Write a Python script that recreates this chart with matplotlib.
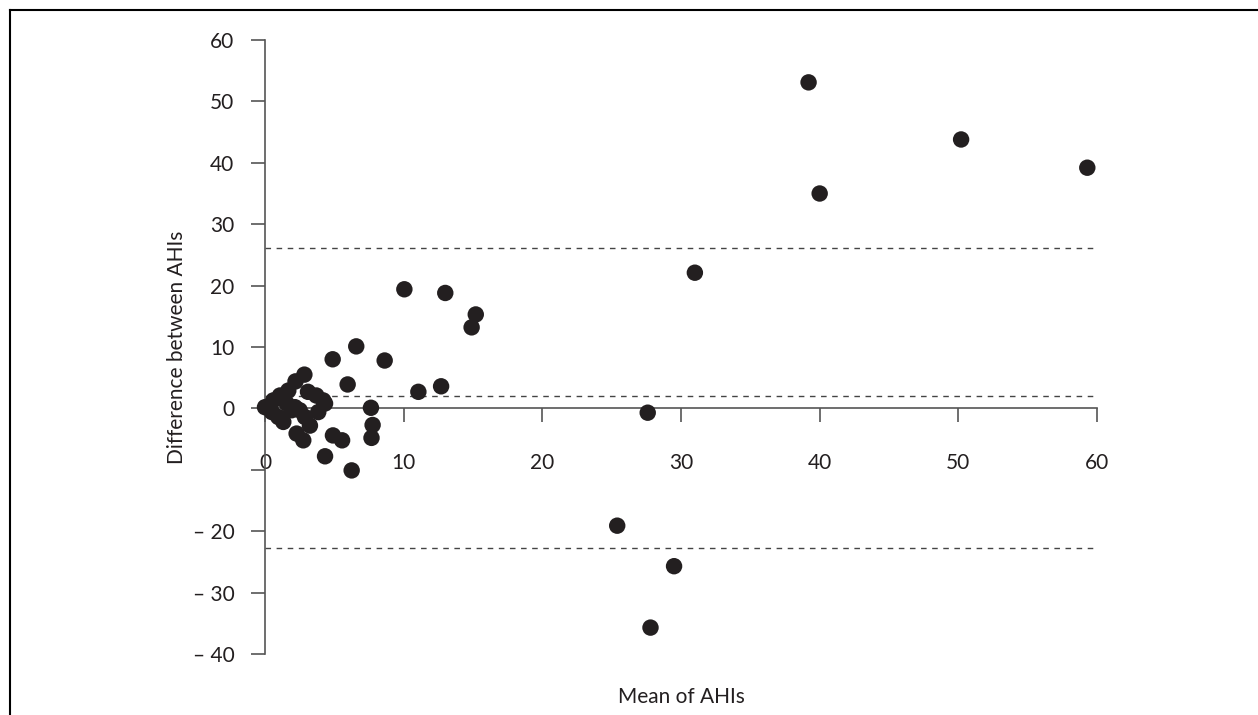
import matplotlib
matplotlib.use("Agg")
import matplotlib.pyplot as plt
from matplotlib.lines import Line2D

plt.rcParams['font.family'] = ['Lato', 'DejaVu Sans']

mean_ahi = [0.0, 0.5, 0.6, 1.08, 0.96, 1.32, 1.56, 1.68, 1.92, 2.16, 2.2, 2.5, 2.84,
            2.88, 3.1, 3.24, 3.7, 3.84, 4.2, 4.33, 2.28, 2.76, 4.33, 4.88, 4.9,
            5.56, 5.96, 6.25, 6.58, 7.64, 7.76, 7.68, 8.63, 10.05, 11.06, 12.7,
            13.0, 14.9, 15.2, 25.4, 27.6, 27.8, 29.5, 31.0, 39.2, 40.0, 50.2, 59.3]
diff_ahi = [0.2, -0.6, 1.3, 2.1, -1.4, -2.2, 0.8, 2.9, -0.3, 0.2, 4.4, -0.3, 5.5,
            -1.4, 2.7, -2.8, 2.1, -0.6, 1.3, 0.8, -4.1, -5.2, -7.8, 8.0, -4.4,
            -5.2, 3.9, -10.1, 10.1, 0.1, -2.7, -4.8, 7.8, 19.4, 2.7, 3.6,
            18.8, 13.2, 15.3, -19.1, -0.7, -35.7, -25.7, 22.1, 53.1, 35.0, 43.8, 39.2]

mean_diff = 2.0
upper_loa = 26.1
lower_loa = -22.7

x_ticks = [0, 10, 20, 30, 40, 50, 60]
x_tick_labels = ['0', '10', '20', '30', '40', '50', '60']
y_ticks = [60, 50, 40, 30, 20, 10, 0, -10, -20, -30, -40]
y_tick_labels = ['60', '50', '40', '30', '20', '10', '0', '', '\u2013 20', '\u2013 30', '\u2013 40']

txt = '#231f20'
axc = '#555555'
fs = 15

fig = plt.figure(figsize=(12.58, 7.15), dpi=100)
ax = fig.add_axes([265/1258, 1-654/715, (1097-265)/1258, (654-40)/715])

for y in (upper_loa, mean_diff, lower_loa):
    ax.plot([0, 60], [y, y], color='#444444', lw=1.0, ls=(0, (4, 4)), zorder=1)

ax.scatter(mean_ahi, diff_ahi, s=140, color=txt, edgecolors='none', zorder=3, clip_on=False)

ax.set_xlim(0, 60)
ax.set_ylim(-40, 60)
ax.spines['top'].set_visible(False)
ax.spines['right'].set_visible(False)
ax.spines['bottom'].set_position(('data', 0))
for s in ('left', 'bottom'):
    ax.spines[s].set_color(axc)
    ax.spines[s].set_linewidth(1.2)

ax.set_xticks(x_ticks)
ax.set_xticklabels(x_tick_labels)
ax.set_yticks(y_ticks)
ax.set_yticklabels(y_tick_labels)
ax.tick_params(axis='x', direction='out', length=10, width=1.2, color=axc,
               labelsize=fs, labelcolor=txt, pad=22)
ax.tick_params(axis='y', direction='out', length=10, width=1.2, color=axc,
               labelsize=fs, labelcolor=txt, pad=12)

fig.text(681/1258, 1-697/715, 'Mean of AHIs', ha='center', va='center', fontsize=fs, color=txt)
fig.text(177/1258, 1-347/715, 'Difference between AHIs', ha='center', va='center',
         rotation=90, fontsize=fs, color=txt)

fig.add_artist(Line2D([10/1258, 1.0], [1-10/715, 1-10/715], transform=fig.transFigure,
                      color='black', lw=1.5))
fig.add_artist(Line2D([10/1258, 10/1258], [0, 1-10/715], transform=fig.transFigure,
                      color='black', lw=1.5))

fig.savefig('out.png', dpi=100)
